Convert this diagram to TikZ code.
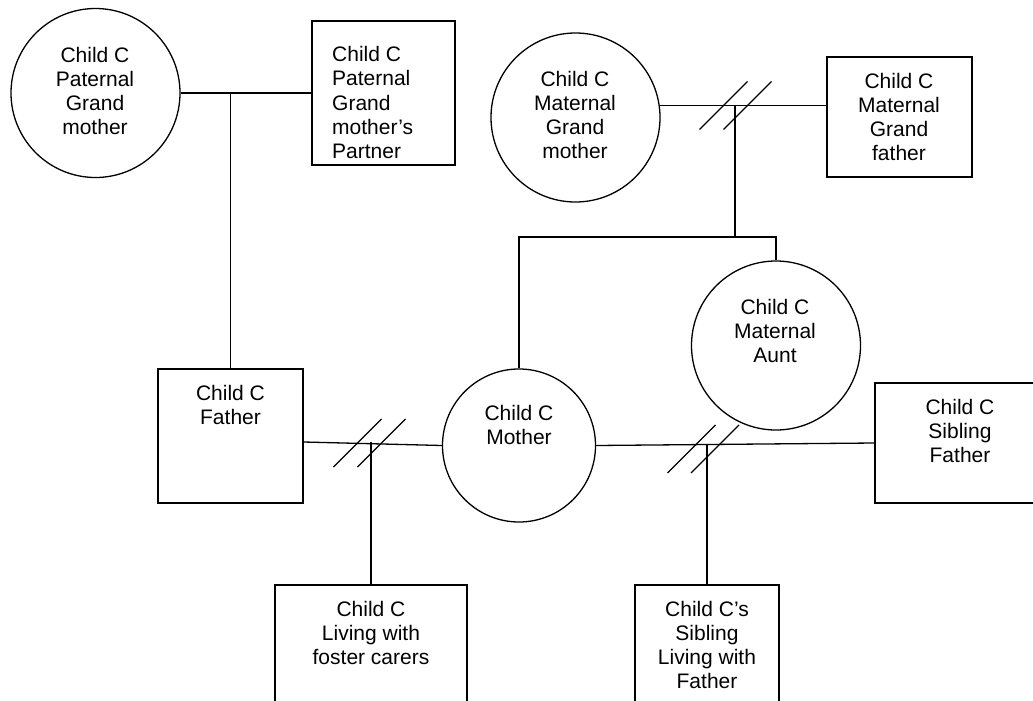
\documentclass[tikz,border=0pt]{standalone}
\usepackage{fontspec}
\setmainfont{Liberation Sans}
\usetikzlibrary{calc,positioning}

\tikzset{
  person/.style={draw,line width=1.3pt,inner sep=0pt},
  female/.style={person,circle,minimum size=169pt},
  male/.style={person,rectangle},
  lbl/.style={inner sep=0pt,align=center,font=\fontsize{21}{24.3}\selectfont},
  tie/.style={line width=1.3pt}
}

\begin{document}
\begin{tikzpicture}[x=1pt,y=-1pt]
\useasboundingbox (0,0) rectangle (1033,701);
\clip (0,0) rectangle (1033,701);

% grandparents
\node [female] (pgm) at (95.5,93) {};
\node [male,minimum width=143pt,minimum height=144pt] (pgp) at (383.5,93) {};
\node [female] (mgm) at (575.5,117.5) {};
\node [male,minimum width=145pt,minimum height=120pt] (mgf) at (899.5,117) {};

% parents, aunt
\node [male,minimum width=145pt,minimum height=134pt] (father) at (230.5,436) {};
\node [female,minimum size=153pt] (mother) at (519,445.5) {};
\node [female] (aunt) at (776,345.5) {};
\node [male,minimum width=175pt,minimum height=120pt] (sibfather) at (962.5,443) {};

% children
\node [male,minimum width=192pt,minimum height=135pt] (foster) at (371,652.5) {};
\node [male,minimum width=144pt,minimum height=135pt] (sibling) at (707,652.5) {};

% texts
\node [lbl] (pgm-txt) at (95,91) {Child C\\Paternal\\Grand\\mother};
\node [lbl,align=left,anchor=west] (pgp-txt) at (332,102.5) {Child C\\Paternal\\Grand\\mother’s\\Partner};
\node [lbl] (mgm-txt) at (575,115) {Child C\\Maternal\\Grand\\mother};
\node [lbl] (mgf-txt) at (899,117) {Child C\\Maternal\\Grand\\father};
\node [lbl] (father-txt) at (230.5,405) {Child C\\Father};
\node [lbl] (mother-txt) at (519,425) {Child C\\Mother};
\node [lbl] (aunt-txt) at (775,331) {Child C\\Maternal\\Aunt};
\node [lbl] (sibfather-txt) at (960,431) {Child C\\Sibling\\Father};
\node [lbl] (foster-txt) at (371,633) {Child C\\Living with\\foster carers};
\node [lbl] (sibling-txt) at (707,645) {Child C’s\\Sibling\\Living with\\Father};

% paternal side
\draw [tie] (pgm.east) -- (pgp.west);
\draw [tie] (father.north |- pgm.east) -- (father.north);

% maternal side
\coordinate (mjoin) at (735,105.5);
\coordinate (mbar) at (735,237);
\draw [tie] (mgm.8) -- (mgm.8 -| mgf.west);
\draw [tie] (mjoin) -- (mbar);
\draw [tie] (mother.north) |- (mbar) -| (aunt.north);

% couples and children
\coordinate (fjoin) at (371,442);
\coordinate (sjoin) at (707,444);
\draw [tie] (father.east |- fjoin) -- (mother.west);
\draw [tie] (fjoin) -- (foster.north);
\draw [tie] (mother.east) -- (sibfather.west);
\draw [tie] (sjoin) -- (sibling.north);

% separated
\foreach \j/\dx/\dy in {mjoin/-11.5/0,mjoin/12.5/0,fjoin/-13.5/1,fjoin/10.5/1,sjoin/-15.5/5,sjoin/8/5}
  \draw [tie] ($(\j)+(\dx-24,\dy+24)$) -- ($(\j)+(\dx+24,\dy-24)$);

\end{tikzpicture}
\end{document}
